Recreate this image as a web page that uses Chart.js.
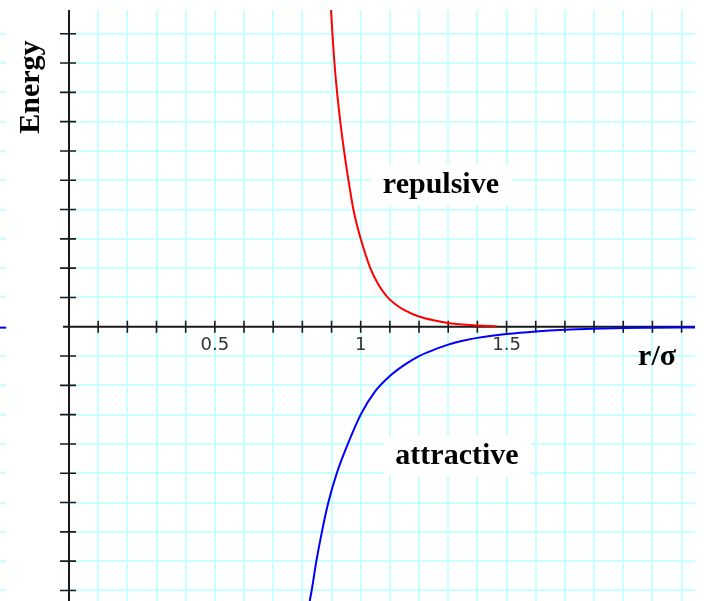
<!DOCTYPE html>
<html><head><meta charset="utf-8">
<script src="https://cdn.jsdelivr.net/npm/chart.js@4.4.1/dist/chart.umd.min.js"></script>
<style>html,body{margin:0;padding:0;background:#fff;overflow:hidden}#wrap{width:704px;height:601px;position:relative}</style>
</head><body><div id="wrap"><canvas id="c" width="704" height="601"></canvas></div>
<script>
// Repulsive branch (r/sigma, energy in tick units)
const repR = [0.895, 0.903, 0.910, 0.919, 0.930, 0.943, 0.958, 0.975, 1.000, 1.033, 1.060, 1.090, 1.120, 1.150, 1.200, 1.250, 1.300, 1.350, 1.400, 1.466];
const repE = [11.4, 10.0, 9.0, 8.0, 7.0, 6.0, 5.0, 4.0, 3.0, 2.0, 1.45, 1.03, 0.76, 0.57, 0.35, 0.22, 0.13, 0.075, 0.04, 0.015];
// Attractive branch
const attR = [0.818, 0.826, 0.832, 0.848, 0.867, 0.889, 0.918, 0.956, 1.000, 1.050, 1.100, 1.150, 1.200, 1.250, 1.300, 1.350, 1.400, 1.500, 1.600, 1.700, 1.800, 1.900, 2.000, 2.146];
const attE = [-10.0, -9.33, -9.0, -8.0, -7.0, -6.0, -5.0, -4.0, -3.0, -2.2, -1.68, -1.30, -1.00, -0.79, -0.61, -0.48, -0.38, -0.25, -0.16, -0.10, -0.065, -0.045, -0.035, -0.025];
// small fragment visible at the left edge
const edgeR = [-0.24, -0.215];
const edgeE = [-0.03, -0.03];

const xTickValues = [0.1,0.2,0.3,0.4,0.5,0.6,0.7,0.8,0.9,1.0,1.1,1.2,1.3,1.4,1.5,1.6,1.7,1.8,1.9,2.0,2.1];
const yTickValues = [-9,-8,-7,-6,-5,-4,-3,-2,-1,1,2,3,4,5,6,7,8,9,10];
const xLabelValues = [0.5, 1, 1.5];
const xLabelTexts = ['0.5', '1', '1.5'];

const xTitle = 'r/σ';
const yTitle = 'Energy';
const repLabel = 'repulsive';
const attLabel = 'attractive';

const toPts = (xs, ys) => xs.map((v, i) => ({x: v, y: ys[i]}));

const decor = {
  id: 'decor',
  beforeDatasetsDraw(chart) {
    const {ctx, chartArea: a, scales: {x, y}} = chart;
    const x0 = x.getPixelForValue(0), y0 = y.getPixelForValue(0);
    ctx.save();
    // blank strip left of the vertical axis
    ctx.fillStyle = '#fff';
    ctx.fillRect(6, a.top - 1, x0 - 6 - 3, a.bottom - a.top + 2);

    // text labels with white boxes
    const serif = 'bold 30px "Liberation Serif", "DejaVu Serif", serif';
    ctx.font = serif;
    ctx.textAlign = 'center';
    ctx.textBaseline = 'middle';
    function boxed(t, vx, vy) {
      const cx = x.getPixelForValue(vx), cy = y.getPixelForValue(vy);
      const w = ctx.measureText(t).width;
      ctx.fillStyle = '#fff';
      ctx.fillRect(cx - w / 2 - 12, cy - 20, w + 24, 40);
      ctx.fillStyle = '#000';
      ctx.fillText(t, cx, cy);
    }
    boxed(repLabel, 1.275, 4.84);
    boxed(attLabel, 1.330, -4.41);
    ctx.fillStyle = '#000';
    ctx.fillText(xTitle, x.getPixelForValue(2.016), y.getPixelForValue(-1.03));
    ctx.save();
    ctx.translate(x.getPixelForValue(-0.128), y.getPixelForValue(8.18));
    ctx.rotate(-Math.PI / 2);
    ctx.fillText(yTitle, 0, 0);
    ctx.restore();

    // axes
    ctx.strokeStyle = '#1a1a1a';
    ctx.lineWidth = 2;
    ctx.beginPath();
    ctx.moveTo(x0, a.top); ctx.lineTo(x0, a.bottom);
    ctx.moveTo(x0 - 6, y0); ctx.lineTo(a.right, y0);
    ctx.stroke();
    // tick marks
    ctx.lineWidth = 1.6;
    ctx.beginPath();
    xTickValues.forEach(v => { const px = x.getPixelForValue(v); ctx.moveTo(px, y0 - 6); ctx.lineTo(px, y0 + 6); });
    yTickValues.forEach(v => { const py = y.getPixelForValue(v); ctx.moveTo(x0 - 9, py); ctx.lineTo(x0 + 7, py); });
    ctx.stroke();
    // tick labels
    ctx.font = '18px "DejaVu Sans", sans-serif';
    ctx.fillStyle = '#333';
    ctx.textBaseline = 'top';
    xLabelValues.forEach((v, i) => ctx.fillText(xLabelTexts[i], x.getPixelForValue(v), y0 + 10));
    ctx.restore();
  }
};

new Chart(document.getElementById('c'), {
  type: 'line',
  data: {
    datasets: [
      {label: 'repulsive', data: toPts(repR, repE), borderColor: '#ff0000', borderWidth: 2, pointRadius: 0, cubicInterpolationMode: 'monotone', fill: false},
      {label: 'attractive', data: toPts(attR, attE), borderColor: '#0000ff', borderWidth: 2, pointRadius: 0, cubicInterpolationMode: 'monotone', fill: false},
      {label: 'edge', data: toPts(edgeR, edgeE), borderColor: '#0000ff', borderWidth: 2, pointRadius: 0, fill: false}
    ]
  },
  options: {
    responsive: false,
    animation: false,
    devicePixelRatio: 1,
    layout: {padding: {top: 10, right: 9, bottom: 0, left: 0}},
    plugins: {legend: {display: false}, tooltip: {enabled: false}},
    scales: {
      x: {
        type: 'linear', min: -0.2365, max: 2.146,
        afterBuildTicks: s => { s.ticks = xTickValues.map(v => ({value: v})); },
        ticks: {display: false},
        border: {display: false},
        grid: {color: '#c8ffff', lineWidth: 2, drawTicks: false}
      },
      y: {
        type: 'linear', min: -9.36, max: 10.81,
        afterBuildTicks: s => { s.ticks = yTickValues.map(v => ({value: v})); },
        ticks: {display: false},
        border: {display: false},
        grid: {color: '#c8ffff', lineWidth: 2, drawTicks: false}
      }
    }
  },
  plugins: [decor]
});
</script></body></html>
